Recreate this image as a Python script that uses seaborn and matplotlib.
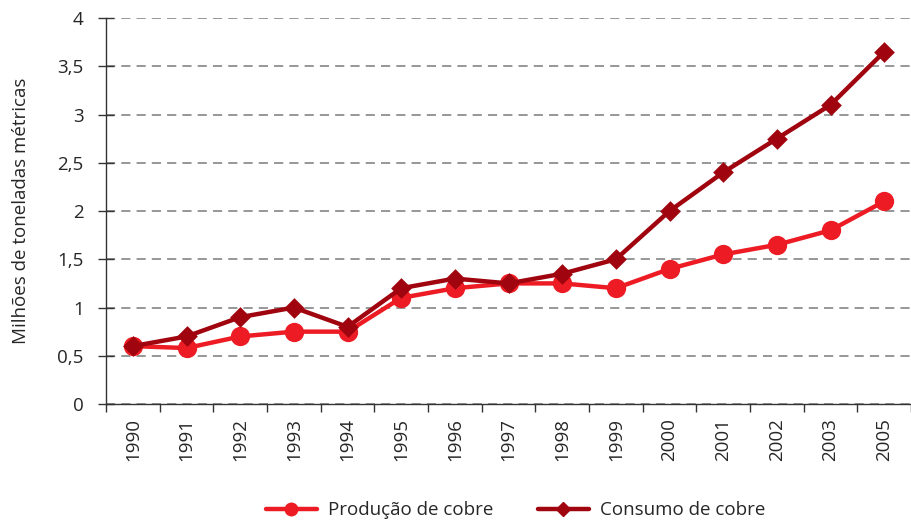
import matplotlib
matplotlib.use("Agg")
import matplotlib.pyplot as plt
import seaborn as sns
import pandas as pd
from matplotlib.ticker import FixedLocator, FuncFormatter
from matplotlib.lines import Line2D

anos = ['1990', '1991', '1992', '1993', '1994', '1995', '1996', '1997',
        '1998', '1999', '2000', '2001', '2002', '2003', '2005']
producao = [0.6, 0.58, 0.7, 0.75, 0.75, 1.1, 1.2, 1.25, 1.25, 1.2,
            1.4, 1.55, 1.65, 1.8, 2.1]
consumo = [0.6, 0.7, 0.9, 1.0, 0.8, 1.2, 1.3, 1.25, 1.35, 1.5,
           2.0, 2.4, 2.75, 3.1, 3.65]
series = ['Produção de cobre', 'Consumo de cobre']
cores = ['#ED1C24', '#A0050F']
marcadores = ['o', 'D']

df = pd.DataFrame({
    'ano': anos * 2,
    'valor': producao + consumo,
    'serie': [series[0]] * len(anos) + [series[1]] * len(anos),
})

sns.set_style('white')
plt.rcParams['font.family'] = ['Open Sans', 'DejaVu Sans']
fs = 13.5

fig = plt.figure(figsize=(9.11, 5.23), dpi=100)
ax = fig.add_axes([0.1164, 0.2275, 0.8836, 0.738])

sizes = [11.5, 8.5]
for s, c, m, ms in zip(series, cores, marcadores, sizes):
    sns.pointplot(data=df[df['serie'] == s], x='ano', y='valor', order=anos,
                  color=c, marker=m, markersize=ms, linewidth=3.2, ax=ax,
                  errorbar=None)

ax.set_xlim(-0.5, len(anos) - 0.5)
ax.set_ylim(0, 4)
ax.set_yticks([0, 0.5, 1, 1.5, 2, 2.5, 3, 3.5, 4])
ax.yaxis.set_major_formatter(FuncFormatter(
    lambda v, p: ('%g' % v).replace('.', ',')))
ax.yaxis.grid(True, linestyle=(0, (6, 4)), color='#7a7a7a', linewidth=1.1)
ax.set_axisbelow(True)

for sp in ['top', 'right']:
    ax.spines[sp].set_visible(False)
for sp in ['left', 'bottom']:
    ax.spines[sp].set_color('#333333')
    ax.spines[sp].set_linewidth(1)

ax.tick_params(axis='y', direction='inout', length=12, width=1,
               color='#333333', labelsize=fs, pad=10, left=True)
ax.set_xticks(range(len(anos)))
ax.set_xticklabels(anos, rotation=90)
ax.tick_params(axis='x', which='major', length=0, labelsize=fs, pad=10)
ax.xaxis.set_minor_locator(FixedLocator([i - 0.5 for i in range(len(anos) + 1)]))
ax.tick_params(axis='x', which='minor', direction='out', length=6,
               width=1, color='#333333', bottom=True)

ax.set_xlabel('')
ax.set_ylabel('Milhões de toneladas métricas', fontsize=fs, labelpad=20)

handles = [Line2D([0], [0], color=c, marker=m, markersize=ms, linewidth=3.2)
           for c, m, ms in zip(cores, marcadores, [9, 7])]
fig.legend(handles, series, loc='lower center', ncol=2, frameon=False,
           fontsize=fs, handlelength=2.7, handletextpad=0.6, columnspacing=2.4,
           bbox_to_anchor=(0.566, -0.025))

fig.savefig('out.png', dpi=100)
